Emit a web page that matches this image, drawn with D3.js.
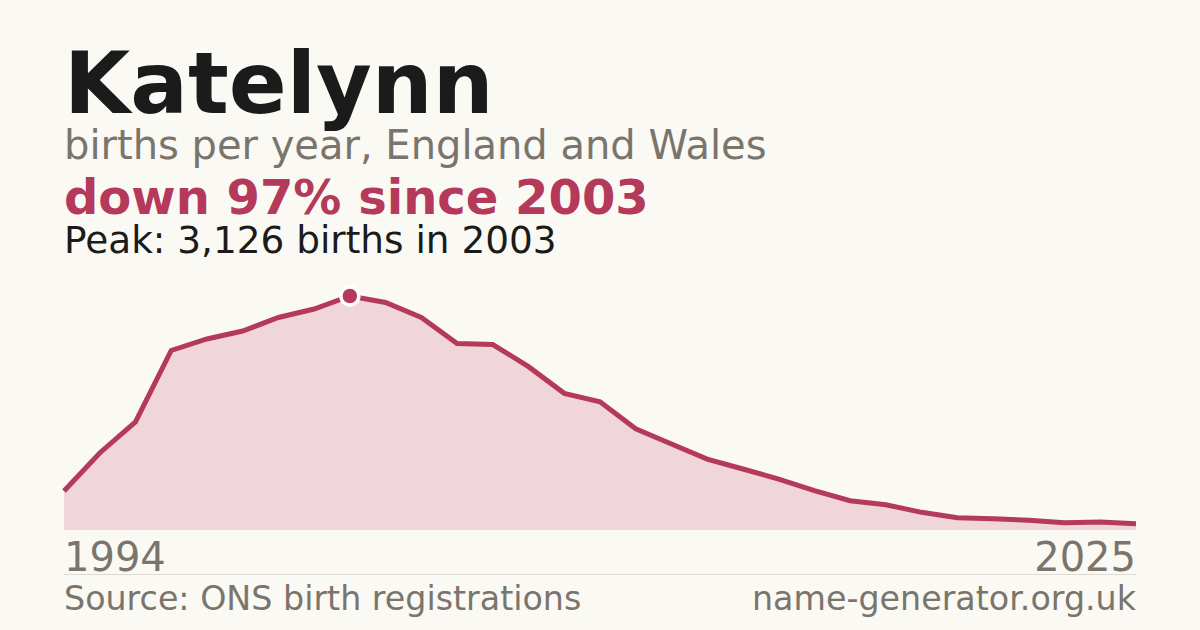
<!DOCTYPE html>
<html>
<head>
<meta charset="utf-8">
<script src="https://cdn.jsdelivr.net/npm/d3@7"></script>
<style>
  html, body { margin: 0; padding: 0; background: #faf9f4; }
  svg { display: block; }
  text { font-family: "DejaVu Sans", sans-serif; }
</style>
</head>
<body>
<svg id="chart" width="1200" height="630"></svg>
<script>
// ---- data ----
const years = [1995,1996,1997,1998,1999,2000,2001,2002,2003,2004,2005,2006,2007,2008,2009,2010,
               2011,2012,2013,2014,2015,2016,2017,2018,2019,2020,2021,2022,2023,2024,2025];
const births = [521,1029,1443,2398,2552,2658,2839,2952,3126,3039,2839,2491,2478,2182,1826,1714,
                1353,1149,948,815,681,525,391,338,236,165,151,129,98,107,84];
const tickLabels = ["1994", "2025"];
const titleText = "Katelynn";
const subtitleText = "births per year, England and Wales";
const changeText = "down 97% since 2003";
const peakText = "Peak: 3,126 births in 2003";
const sourceText = "Source: ONS birth registrations";
const siteText = "name-generator.org.uk";

// ---- layout ----
const svg = d3.select("#chart");
const plotLeft = 64, plotRight = 1136, plotBase = 530, plotTop = 296;
const red = "#b5395a", grey = "#7a756c", ink = "#1b1b1b";

svg.append("rect").attr("width", 1200).attr("height", 630).attr("fill", "#faf9f4");

const x = d3.scalePoint().domain(years).range([plotLeft, plotRight]);
const y = d3.scaleLinear().domain([0, d3.max(births)]).range([plotBase, plotTop]);

const pts = years.map((yr, i) => ({ yr, v: births[i] }));

svg.append("path")
  .datum(pts)
  .attr("fill", "#f0d5da")
  .attr("d", d3.area().x(d => x(d.yr)).y0(plotBase).y1(d => y(d.v)));

svg.append("path")
  .datum(pts)
  .attr("fill", "none")
  .attr("stroke", red)
  .attr("stroke-width", 5)
  .attr("stroke-linejoin", "miter")
  .attr("d", d3.line().x(d => x(d.yr)).y(d => y(d.v)));

const peakIdx = d3.maxIndex(births);
svg.append("circle")
  .attr("cx", x(years[peakIdx]))
  .attr("cy", y(births[peakIdx]))
  .attr("r", 9)
  .attr("fill", red)
  .attr("stroke", "#ffffff")
  .attr("stroke-width", 3.5);

// ---- header text ----
svg.append("text").attr("x", plotLeft).attr("y", 113)
  .attr("font-size", 85.5).attr("font-weight", "bold").attr("fill", ink).text(titleText);
svg.append("text").attr("x", plotLeft).attr("y", 159)
  .attr("font-size", 40).attr("fill", grey).text(subtitleText);
svg.append("text").attr("x", plotLeft).attr("y", 214)
  .attr("font-size", 48).attr("font-weight", "bold").attr("fill", red).text(changeText);
svg.append("text").attr("x", plotLeft).attr("y", 253)
  .attr("font-size", 37.4).attr("fill", ink).text(peakText);

// ---- axis labels ----
svg.append("text").attr("x", plotLeft).attr("y", 571)
  .attr("font-size", 40).attr("fill", grey).text(tickLabels[0]);
svg.append("text").attr("x", plotRight).attr("y", 571).attr("text-anchor", "end")
  .attr("font-size", 40).attr("fill", grey).text(tickLabels[1]);

svg.append("line").attr("x1", plotLeft).attr("x2", plotRight).attr("y1", 574.5).attr("y2", 574.5)
  .attr("stroke", "#dddad3").attr("stroke-width", 1);

// ---- footer ----
svg.append("text").attr("x", plotLeft).attr("y", 610)
  .attr("font-size", 33.3).attr("fill", grey).text(sourceText);
svg.append("text").attr("x", plotRight).attr("y", 610).attr("text-anchor", "end")
  .attr("font-size", 33.3).attr("fill", grey).text(siteText);
</script>
</body>
</html>
